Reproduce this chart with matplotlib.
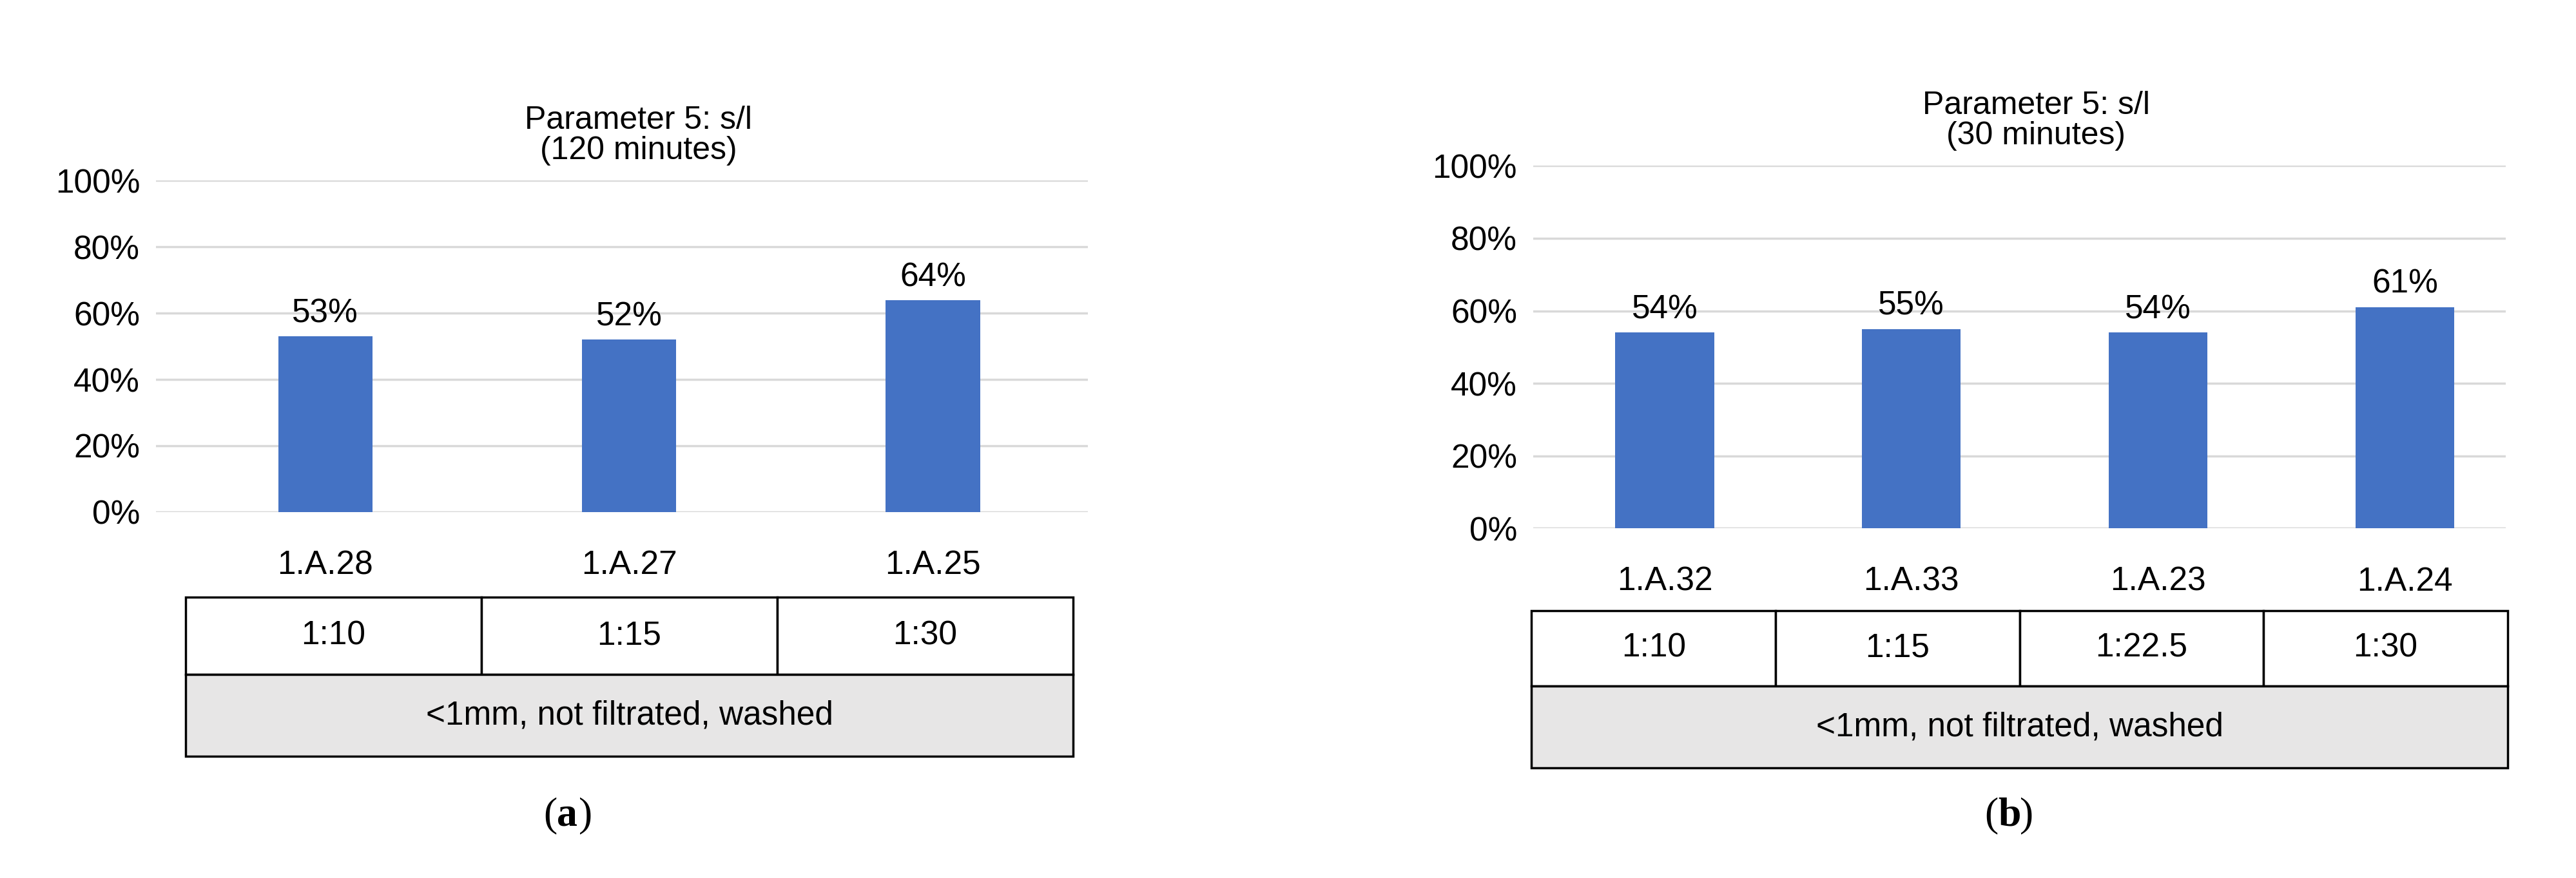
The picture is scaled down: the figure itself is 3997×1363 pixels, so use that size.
import matplotlib
matplotlib.use("Agg")
import matplotlib.pyplot as plt
from matplotlib.patches import Rectangle

plt.rcParams['font.family'] = ['Liberation Sans', 'DejaVu Sans']

titles = ["Parameter 5: s/l\n(120 minutes)", "Parameter 5: s/l\n(30 minutes)"]
cats_a = ["1.A.28", "1.A.27", "1.A.25"]
vals_a = [53, 52, 64]
ratios_a = ["1:10", "1:15", "1:30"]
cats_b = ["1.A.32", "1.A.33", "1.A.23", "1.A.24"]
vals_b = [54, 55, 54, 61]
ratios_b = ["1:10", "1:15", "1:22.5", "1:30"]
group_label = "<1mm, not filtrated, washed"
panel_labels = ["a", "b"]

W, H = 1568.0, 535.0
fig = plt.figure(figsize=(39.98, 13.63), dpi=100)

def fx(x): return x / W
def fy(y): return 1 - y / H

FS = 37

def panel(ax_box, cats, vals, ratios, title, xl, bw, table_x, table_y, lab_xy, lab):
    x0, x1, ytop, ybot = ax_box
    ax = fig.add_axes([fx(x0), fy(ybot), fx(x1) - fx(x0), fy(ytop) - fy(ybot)])
    pos = list(range(len(cats)))
    ax.bar(pos, vals, width=bw, color="#4472C4", zorder=3)
    for p, v in zip(pos, vals):
        ax.text(p, v + 2, f"{v}%", ha="center", va="bottom", fontsize=FS)
    ax.set_ylim(0, 100)
    ax.set_xlim(*xl)
    ax.set_yticks(range(0, 101, 20))
    ax.set_yticklabels([f"{t}%" for t in range(0, 101, 20)], fontsize=FS)
    ax.set_xticks(pos)
    ax.set_xticklabels(cats, fontsize=FS)
    ax.tick_params(length=0, axis="y", pad=18)
    ax.tick_params(length=0, axis="x", pad=42)
    ax.grid(axis="y", color="#d9d9d9", linewidth=2.5, zorder=0)
    for s in ax.spines.values():
        s.set_visible(False)
    ax.axhline(0, color="#d9d9d9", linewidth=2.5, zorder=1)
    fig.text(fx((x0 + x1) / 2 + 10), fy(ytop - 9), title, ha="center", va="bottom",
             fontsize=FS - 1, linespacing=1.05)
    tx0, tx1 = table_x
    ty0, ty1, ty2 = table_y
    n = len(ratios)
    cw = (tx1 - tx0) / n
    for i, r in enumerate(ratios):
        fig.add_artist(Rectangle((fx(tx0 + i * cw), fy(ty1)), fx(cw), fy(ty0) - fy(ty1),
                                 transform=fig.transFigure, facecolor="white",
                                 edgecolor="black", linewidth=2.5))
        fig.text(fx(tx0 + (i + 0.5) * cw), fy((ty0 + ty1) / 2), r, ha="center",
                 va="center", fontsize=FS)
    fig.add_artist(Rectangle((fx(tx0), fy(ty2)), fx(tx1 - tx0), fy(ty1) - fy(ty2),
                             transform=fig.transFigure, facecolor="#e7e6e6",
                             edgecolor="black", linewidth=2.5))
    fig.text(fx((tx0 + tx1) / 2), fy((ty1 + ty2) / 2), group_label, ha="center",
             va="center", fontsize=FS)
    fig.text(fx(lab_xy[0]), fy(lab_xy[1]), "(", ha="right", va="center",
             fontsize=46, family="Liberation Serif")
    fig.text(fx(lab_xy[0]), fy(lab_xy[1]), lab, ha="left", va="center",
             fontsize=46, family="Liberation Serif", weight="bold")
    fig.text(fx(lab_xy[0] + 13), fy(lab_xy[1]), ")", ha="left", va="center",
             fontsize=46, family="Liberation Serif")

panel((95, 662, 110, 312), cats_a, vals_a, ratios_a, titles[0], (-0.557, 2.51), 0.31,
      (113, 653), (364, 411, 461), (339, 497), panel_labels[0])
panel((933, 1525, 101, 322), cats_b, vals_b, ratios_b, titles[1], (-0.533, 3.41), 0.4,
      (932, 1526), (372, 418, 468), (1216, 497), panel_labels[1])

fig.savefig("out.png", dpi=100, facecolor="white")
